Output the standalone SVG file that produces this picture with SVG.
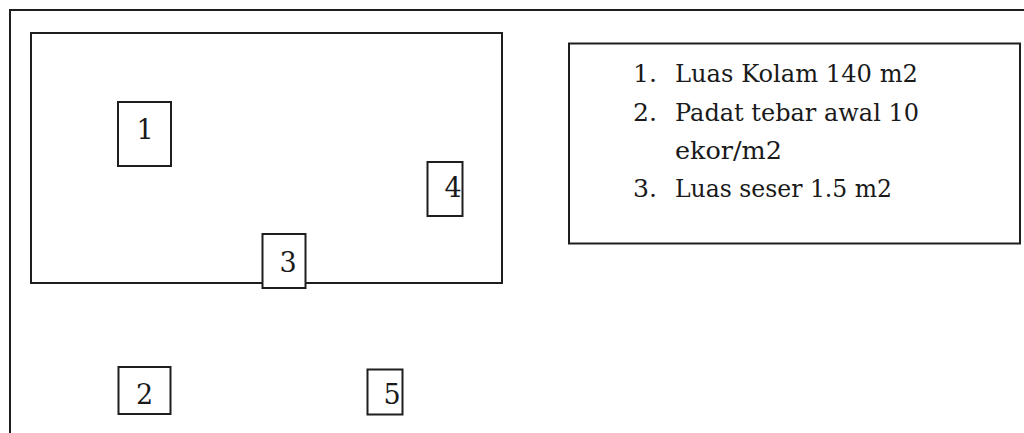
<svg xmlns="http://www.w3.org/2000/svg" width="1024" height="433" viewBox="0 0 1024 433">
<style>
.ln{fill:none;stroke:#1e1e1e;stroke-width:2}
.box{fill:#fff;stroke:#1e1e1e;stroke-width:2}
.num{font-family:"DejaVu Serif","Liberation Serif",serif;font-size:27px;fill:#1a1a1a;text-anchor:middle}
.leg{font-family:"DejaVu Serif","Liberation Serif",serif;font-size:25px;fill:#1a1a1a}
</style>
<rect width="1024" height="433" fill="#fff"/>
<g id="frame">
<path class="ln" d="M10,433 V10 H1024"/>
</g>
<g id="pond">
<rect class="ln" x="31" y="33" width="471" height="250"/>
</g>
<g id="node1">
<rect class="box" x="118" y="102" width="53" height="64"/>
<text class="num" x="145" y="139">1</text>
</g>
<g id="node4">
<rect class="box" x="427.5" y="162" width="35" height="54"/>
<text class="num" x="453" y="197">4</text>
</g>
<g id="node3">
<rect class="box" x="262.5" y="234" width="43" height="54"/>
<text class="num" x="288" y="272">3</text>
</g>
<g id="node2">
<rect class="box" x="118.5" y="367" width="52" height="47"/>
<text class="num" x="144.5" y="404">2</text>
</g>
<g id="node5">
<rect class="box" x="367.5" y="369.5" width="35" height="45"/>
<text class="num" x="392" y="403.5">5</text>
</g>
<g id="legend">
<rect class="box" x="569" y="43.5" width="451" height="200"/>
<text class="leg" x="633" y="82" textLength="24" lengthAdjust="spacingAndGlyphs">1.</text>
<text class="leg" x="675" y="82" textLength="243" lengthAdjust="spacingAndGlyphs">Luas Kolam 140 m2</text>
<text class="leg" x="633" y="121" textLength="24" lengthAdjust="spacingAndGlyphs">2.</text>
<text class="leg" x="675" y="121" textLength="244" lengthAdjust="spacingAndGlyphs">Padat tebar awal 10</text>
<text class="leg" x="675" y="159" textLength="107" lengthAdjust="spacingAndGlyphs">ekor/m2</text>
<text class="leg" x="633" y="197" textLength="24" lengthAdjust="spacingAndGlyphs">3.</text>
<text class="leg" x="675" y="197" textLength="217" lengthAdjust="spacingAndGlyphs">Luas seser 1.5 m2</text>
</g>
<g id="connectors"></g>
</svg>
